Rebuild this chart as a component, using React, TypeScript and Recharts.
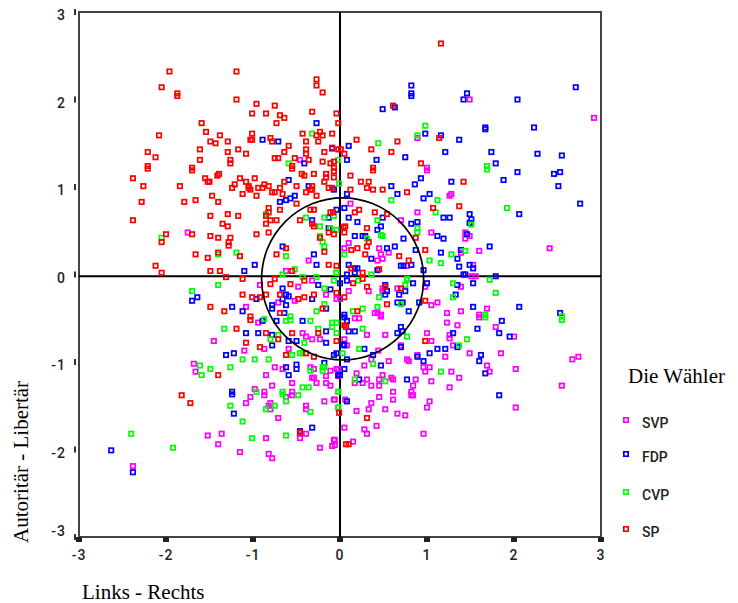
import React from "react";
import { ScatterChart, Scatter, XAxis, YAxis, ReferenceLine, ReferenceDot, ReferenceArea, Legend } from "recharts";

type P = [number, number];

const axisTicks = [-3, -2, -1, 0, 1, 2, 3];
const axisDomain: [number, number] = [-3, 3];
const xTitle = "Links - Rechts";
const yTitle = "Autoritär - Libertär";
const legendTitle = "Die Wähler";
const circleCenter = { x: 0.03, y: -0.05 };

const svpPoints: P[] = [
[-0.46,1.31],[-1.75,0.48],[-0.36,0.16],[-0.62,0.04],
[1.49,2.00],[2.92,1.79],[0.89,1.56],[1.00,1.22],[1.00,1.19],[1.28,0.92],[1.26,0.90],[0.12,0.81],[0.89,0.71],[0.70,0.62],[1.05,0.48],[1.44,0.48],[1.49,0.44],[1.44,0.41],[0.10,0.36],[0.45,0.30],[0.05,0.30],[1.60,0.27],[2.41,0.30],[0.47,0.23],[0.56,0.25],[0.49,0.18],[0.43,0.16],[1.39,0.25],[1.53,0.11],[0.77,0.10],[1.51,-0.02],[1.56,-0.02],
[-0.92,-0.12],[-0.48,-0.14],[-0.32,-0.07],[-0.16,-0.23],[-0.04,-0.28],[-0.52,-0.30],[-0.71,-0.32],[-1.08,-0.37],[-0.94,-0.55],[-1.45,-0.76],[-0.43,-0.67],[-0.39,-0.71],[-0.32,-0.74],[-0.23,-0.74],[-0.87,-0.85],[-0.59,-0.85],[-1.10,-0.87],[-1.68,-1.02],[-1.66,-1.11],[-0.75,-1.06],[-0.66,-1.08],[-0.34,-1.06],[-0.30,-1.08],[-0.11,-1.10],[-0.04,-1.08],[-0.02,-1.16],[-0.16,-1.16],[-0.85,-1.15],[-0.32,-1.18],[-0.30,-1.18],[-0.27,-1.24],[-0.16,-1.24],[-0.11,-1.27],[-0.78,-1.27],[-0.55,-1.24],[-0.98,-1.31],[-0.87,-1.34],[-0.87,-1.38],[-0.55,-1.34],[-0.55,-1.38],[-0.62,-1.40],[-1.03,-1.40],[-1.08,-1.47],[-0.80,-1.47],[-0.82,-1.50],[-0.80,-1.54],[-0.39,-1.50],[-0.39,-1.54],[-0.18,-1.45],[-0.07,-1.43],[-0.71,-1.64],[-1.52,-1.84],[-1.36,-1.82],[-1.40,-1.94],[-0.85,-1.87],[-0.46,-1.87],[-0.39,-1.82],[-1.15,-2.03],[-0.82,-2.05],[-0.78,-2.10],[-0.23,-1.98],[-0.09,-1.96],[-0.07,-1.89],[-2.38,-2.19],
[0.10,-0.19],[0.33,-0.19],[0.49,-0.16],[0.49,-0.19],[0.66,-0.16],[0.98,-0.14],[1.39,-0.14],[0,-0.28],[1.05,-0.35],[1.12,-0.32],[0.40,-0.44],[0.43,-0.44],[0.47,-0.46],[0.47,-0.48],[1.23,-0.44],[1.39,-0.42],[1.69,-0.39],[1.60,-0.46],[1.60,-0.49],[0.17,-0.50],[0.22,-0.50],[1.23,-0.55],[1.35,-0.58],[1.79,-0.60],[1.00,-0.67],[0.31,-0.69],[0.52,-0.69],[1.26,-0.69],[1.26,-0.73],[1.05,-0.76],[0.05,-0.74],[2.00,-0.71],[0.08,-0.81],[0.70,-0.81],[1.30,-0.81],[1.49,-0.90],[1.85,-0.90],[0.44,-0.87],[0.89,-0.92],[1.21,-0.94],[2.67,-0.97],[2.74,-0.94],[0.56,-0.99],[0.36,-0.97],[0.77,-0.97],[0.79,-0.99],[0.28,-1.04],[0.96,-1.06],[1.03,-1.06],[1.69,-1.04],[0.98,-1.11],[1.72,-1.11],[2.02,-1.08],[-0.02,-1.08],[0.19,-1.13],[0.49,-1.15],[0.59,-1.18],[0.61,-1.20],[0.87,-1.20],[1.28,-1.11],[1.37,-1.18],[0.31,-1.20],[0.45,-1.20],[0.26,-1.24],[0.17,-1.24],[0.36,-1.27],[0.45,-1.27],[1.05,-1.22],[0.84,-1.27],[2.55,-1.27],[1.26,-1.29],[0.61,-1.34],[0.61,-1.43],[0.82,-1.34],[0.82,-1.38],[0.84,-1.38],[0.45,-1.40],[0.36,-1.47],[1.03,-1.45],[0.33,-1.54],[0.52,-1.54],[1.00,-1.52],[2.02,-1.52],[0.19,-1.56],[0.66,-1.59],[0.75,-1.61],[0.42,-1.73],[0.05,-1.75],[0.28,-1.77],[0.31,-1.82],[0.96,-1.82],[0.15,-1.91],[-0.06,-1.89],[-0.06,-1.95],[-0.06,-1.43],[0.06,-1.43],
];

const fdpPoints: P[] = [
[-0.27,1.73],[-0.89,1.54],[-0.71,1.52],[-0.09,1.44],[-0.41,1.27],[-0.59,1.08],[-0.36,1.01],[-0.07,0.97],[-0.69,0.83],[-0.62,0.85],[-0.57,0.87],[-0.52,0.90],[-0.04,0.74],[-0.13,0.65],[-0.32,0.62],[-0.13,0.53],[-0.66,0.32],[-0.30,0.23],[-0.27,0.11],[-0.98,0.11],[-1.10,0.04],
[0.82,2.16],[0.82,2.07],[0.82,2.04],[1.46,2.07],[1.42,2.00],[2.71,2.14],[2.04,2.00],[0.49,1.89],[0.63,1.91],[1.67,1.68],[1.67,1.66],[2.23,1.68],[0.98,1.61],[1.16,1.59],[1.37,1.54],[0.10,1.47],[1.21,1.40],[1.74,1.40],[0.08,1.31],[0.42,1.31],[0.75,1.34],[2.27,1.38],[2.55,1.36],[1.79,1.27],[2.04,1.17],[2.46,1.15],[2.53,1.17],[1.88,1.08],[0.93,1.10],[0.86,1.03],[1.28,1.06],[2.51,1.01],[0.59,1.01],[0.08,0.92],[0.66,0.92],[1.03,0.92],[0.96,0.87],[2.76,0.81],[0.05,0.76],[1.49,0.69],[2.06,0.69],[0.10,0.65],[0.49,0.65],[1.51,0.63],[1.49,0.59],[1.19,0.65],[1.26,0.65],[0.20,0.60],[0.82,0.58],[0.89,0.60],[0.47,0.55],[0.43,0.51],[1.46,0.46],[0.17,0.44],[0.29,0.44],[0.26,0.44],[0.73,0.41],[1.12,0.44],[1.19,0.41],[0.54,0.30],[0.63,0.32],[0.87,0.28],[1.72,0.32],[1.39,0.28],[1.16,0.25],[0.36,0.18],[1.35,0.18],[0.70,0.10],[0.73,0.10],[0.82,0.11],[1.37,0.09],[1.49,0.11],[1.53,0.07],[0.10,0.11],[0.17,0.07],[0.20,0.07],[0.43,0.05],[0.08,0],[0.96,0.05],[1.42,0],[1.44,0],[1.79,-0.02],
[-0.25,-0.12],[-0.11,-0.17],[-0.66,-0.16],[-0.96,-0.28],[-0.66,-0.28],[-0.62,-0.23],[-0.59,-0.25],[-0.78,-0.35],[-0.78,-0.39],[-0.62,-0.35],[-0.32,-0.28],[-0.16,-0.39],[-1.64,-0.26],[-1.70,-0.30],[-1.24,-0.37],[-1.12,-0.42],[-0.64,-0.44],[-0.89,-0.53],[-0.73,-0.53],[-0.43,-0.53],[-1.08,-0.67],[-0.94,-0.67],[-0.16,-0.65],[-0.78,-0.69],[-0.59,-0.76],[-0.50,-0.76],[-0.16,-0.78],[-0.78,-0.81],[-0.07,-0.92],[-0.04,-0.90],[-1.31,-0.92],[-1.22,-0.90],[-0.18,-1.01],[-0.62,-1.06],[-0.50,-1.03],[-0.50,-1.08],[-0.59,-1.15],[-1.24,-1.34],[-1.24,-1.37],[-1.22,-1.59],[-0.46,-1.79],[-0.32,-1.75],[-2.63,-2.01],[-2.38,-2.26],
[0.17,0.02],[0,-0.10],[0.08,-0.07],[0.84,-0.10],[1.00,-0.10],[1.35,-0.12],[1.33,-0.23],[1.53,-0.10],[0.52,-0.12],[0.54,-0.19],[0.52,-0.23],[0.68,-0.23],[0.75,-0.19],[0.66,-0.32],[0.72,-0.32],[0.91,-0.32],[0.79,-0.42],[1.53,-0.37],[2.06,-0.37],[2.53,-0.44],[0.05,-0.46],[0.05,-0.49],[0.08,-0.53],[0.70,-0.60],[0.66,-0.67],[0.72,-0.65],[0.10,-0.65],[0.17,-0.65],[1.30,-0.67],[1.58,-0.62],[1.83,-0.67],[1.86,-0.53],[1.95,-0.71],[0.70,-0.83],[1.35,-0.83],[0.28,-0.85],[0.04,-0.80],[0.05,-0.81],[1.03,-0.90],[1.12,-0.85],[1.21,-0.85],[1.62,-0.92],[1.60,-0.99],[0.89,-0.94],[0.96,-0.99],[0.38,-0.92],[0.08,-0.97],[0.47,-1.04],[0.05,-1.08],[0.00,-1.15],[1.67,-1.13],[0.77,-1.20],[0.22,-1.20],[0.08,-1.45],[1.83,-1.38],[-0.02,-1.15],
];

const cvpPoints: P[] = [
[-0.32,1.61],[-0.59,1.27],[-0.02,1.31],[-0.01,1.04],[-0.85,0.69],[-0.39,0.65],[-0.18,0.65],[-0.07,0.67],[-0.23,0.55],[-0.11,0.53],[-0.04,0.51],[-0.23,0.44],[-0.20,0.37],[-0.18,0.32],[-2.05,0.42],[-1.40,0.23],[-1.19,0.25],[-0.62,0.21],[-0.52,0.06],
[0.98,1.70],[0.89,1.59],[0.44,1.50],[1.69,1.24],[1.69,1.20],[0.59,0.85],[1.12,0.85],[1.10,0.71],[1.92,0.76],[0.43,0.62],[1.51,0.57],[0.89,0.53],[0.89,0.48],[0.31,0.41],[0.47,0.45],[0.49,0.44],[1.44,0.27],[1.28,0.23],[1.03,0.16],[1.16,0.13],[0.05,0.23],[0.36,0],[0.77,-0.06],[1.72,-0.06],[-0.04,0.02],
[-0.66,0],[-0.43,-0.03],[-0.27,-0.03],[-0.07,-0.07],[-0.04,0.02],[-1.40,-0.12],[-1.70,-0.19],[-0.18,-0.16],[-0.18,-0.34],[-0.27,-0.42],[-0.87,-0.51],[-0.57,-0.48],[-0.57,-0.52],[-0.62,-0.53],[-0.34,-0.53],[-0.09,-0.55],[-0.09,-0.60],[-0.04,-0.67],[-0.25,-0.62],[-1.33,-0.62],[-0.80,-0.74],[-0.71,-0.69],[-0.41,-0.78],[-1.12,-0.97],[-0.98,-0.97],[-0.82,-0.97],[-0.55,-0.92],[-0.46,-0.90],[-0.43,-0.90],[-1.61,-1.04],[-1.49,-1.08],[-1.26,-1.06],[-1.59,-1.15],[-0.20,-1.06],[-0.18,-1.06],[-0.20,-1.10],[-0.34,-1.10],[-0.43,-1.29],[-0.36,-1.29],[-0.96,-1.34],[-0.66,-1.34],[-0.66,-1.37],[-0.48,-1.38],[-0.62,-1.45],[-1.26,-1.50],[-0.75,-1.50],[-0.85,-1.54],[-0.34,-1.57],[-0.02,-1.34],[-0.02,-1.52],[-1.12,-1.68],[-2.40,-1.82],[-1.01,-1.87],[-0.62,-1.84],[-1.92,-1.98],
[0.21,-0.07],[0.77,-0.05],[0.75,-0.12],[1.30,-0.10],[1.30,-0.26],[1.79,-0.21],[0.45,-0.26],[0.70,-0.34],[0.43,-0.37],[0.26,-0.39],[0.15,-0.42],[1.67,-0.46],[1.67,-0.49],[2.55,-0.48],[2.55,-0.52],[0.26,-0.62],[0.77,-0.71],[1.46,-0.74],[1.37,-0.81],[0.22,-0.85],[0.03,-0.90],[0.38,-1.02],[1.16,-1.11],[0.17,-1.20],[0.52,-1.22],[-0.02,-1.34],[-0.02,-1.52],[-0.04,-0.55],
];

const spPoints: P[] = [
[-1.96,2.32],[-1.19,2.32],[-2.05,2.14],[-1.87,2.07],[-1.87,2.04],[-1.19,2.00],[-0.96,1.95],[-0.75,1.93],[-1.01,1.84],[-0.85,1.84],[-0.69,1.82],[-0.64,1.79],[-0.32,1.86],[-0.04,1.84],[-1.59,1.73],[-0.73,1.73],[-0.27,2.23],[-0.27,2.16],[-0.20,2.08],[-0.02,1.73],[-1.54,1.63],[-2.08,1.59],[-1.38,1.59],[-1.01,1.61],[-1.03,1.54],[-1.01,1.54],[-0.80,1.56],[-0.43,1.61],[-0.23,1.63],[-0.27,1.59],[-0.20,1.59],[-0.09,1.61],[-1.49,1.52],[-1.43,1.50],[-1.29,1.52],[-0.78,1.52],[-0.39,1.52],[-0.25,1.52],[-0.59,1.47],[-0.09,1.45],[-1.61,1.43],[-2.21,1.40],[-1.29,1.40],[-1.17,1.43],[-1.08,1.38],[-0.64,1.40],[-0.39,1.43],[-0.39,1.38],[-0.18,1.40],[-0.02,1.43],[-2.12,1.34],[-1.61,1.31],[-1.26,1.31],[-1.26,1.27],[-0.75,1.33],[-0.71,1.33],[-0.52,1.33],[-0.36,1.31],[-0.20,1.29],[-0.07,1.29],[-0.55,1.24],[-0.55,1.21],[-0.11,1.27],[-2.21,1.24],[-2.21,1.21],[-1.70,1.22],[-1.70,1.19],[-0.07,1.22],[-0.07,1.18],[-2.38,1.10],[-1.55,1.10],[-1.39,1.15],[-1.41,1.13],[-1.15,1.10],[-0.98,1.10],[-0.44,1.15],[-0.41,1.13],[-0.30,1.15],[-0.16,1.15],[-0.16,1.11],[-0.07,1.11],[-1.52,1.06],[-1.50,1.06],[-1.08,1.06],[-0.64,1.06],[-1.21,1.03],[-0.87,1.03],[-0.18,1.06],[-2.26,1.01],[-1.84,1.01],[-1.24,0.99],[-1.05,1.01],[-1.05,0.99],[-0.94,0.99],[-0.89,0.99],[-0.82,1.01],[-0.69,0.99],[-0.50,1.01],[-0.32,1.01],[-0.34,0.97],[-0.13,0.99],[-0.09,0.99],[-1.03,0.97],[-0.78,0.94],[-0.75,0.94],[-0.66,0.92],[-0.39,0.94],[-0.32,0.97],[-1.47,0.90],[-1.12,0.92],[-0.96,0.90],[-0.27,0.90],[-2.28,0.83],[-1.79,0.83],[-1.66,0.85],[-1.40,0.83],[-0.50,0.81],[-0.82,0.76],[-0.34,0.74],[-0.30,0.74],[-0.69,0.74],[-0.82,0.71],[-0.85,0.67],[-1.29,0.69],[-1.17,0.67],[-1.49,0.67],[-0.11,0.71],[-0.08,0.71],[-0.80,0.62],[-0.73,0.62],[-0.46,0.62],[-2.38,0.62],[-1.35,0.58],[-1.29,0.55],[-0.85,0.58],[-0.32,0.58],[-0.30,0.55],[-0.13,0.48],[-0.07,0.46],[-0.82,0.48],[-0.96,0.46],[-2.00,0.46],[-1.70,0.46],[-1.49,0.44],[-1.40,0.42],[-1.26,0.42],[-1.28,0.37],[-1.28,0.33],[-2.05,0.37],[-0.62,0.30],[-0.23,0.42],[-0.18,0.26],[-1.66,0.23],[-0.73,0.23],[-1.15,0.21],[-1.52,0.19],[-1.40,0.25],[-2.12,0.10],[-0.13,0.11],[-0.04,0.10],[-2.05,0.02],[-1.49,0.04],[-1.38,0.04],
[1.16,2.64],[0.61,1.93],[0.19,1.54],[0.36,1.43],[0.66,1.52],[0.59,1.40],[0.05,1.38],[0.01,1.43],[1.14,1.56],[0.93,1.27],[0.38,1.22],[0.38,1.19],[0.12,1.13],[0.24,1.06],[0.33,1.06],[1.42,1.06],[0.31,0.99],[0.38,0.97],[0.49,0.97],[0.12,0.97],[0.77,0.94],[1.37,0.78],[1.07,0.76],[0.22,0.74],[0.17,0.71],[0.40,0.71],[0.54,0.69],[0.31,0.53],[0.06,0.55],[0.04,0.54],[0.05,0.48],[0.87,0.42],[0.33,0.37],[0.31,0.32],[0.20,0.30],[0.13,0.28],[0.29,0.23],[0.68,0.21],[0.79,0.16],[0.98,0.28],[0.45,0.06],[0.13,0.07],[0.26,0.02],
[-1.31,-0.03],[-1.12,-0.05],[-0.55,0.04],[-0.57,-0.11],[-0.41,-0.07],[-0.80,-0.11],[-0.75,-0.05],[-1.12,-0.23],[-1.01,-0.26],[-0.92,-0.26],[-0.85,-0.23],[-0.69,-0.23],[-0.48,-0.28],[-0.41,-0.26],[-0.30,-0.23],[-0.04,-0.21],[-1.49,-0.37],[-1.33,-0.42],[-1.03,-0.48],[-1.03,-0.52],[-0.69,-0.44],[-0.20,-0.39],[-1.19,-0.62],[-0.85,-0.67],[-0.55,-0.67],[-0.25,-0.67],[-0.71,-0.74],[-0.04,-0.76],[-1.08,-0.78],[-0.92,-0.83],[-0.62,-0.92],[-0.39,-0.90],[-0.30,-0.94],[-0.46,-1.81],[-1.40,-1.15],[-1.82,-1.38],[-1.72,-1.47],[-0.01,-1.58],
[0.15,-0.10],[0.26,-0.05],[0.31,-0.14],[0.52,-0.14],[0.70,-0.16],[0.05,-0.26],[0.54,-0.34],[0.98,-0.30],[0.20,-0.42],[0.05,-0.58],[0.07,-0.60],[0.98,-0.76],[0.31,-1.64],[0.07,-1.94],[0.10,-1.94],
];

const parties = [
  { name: "SVP", color: "#ff00ff", points: svpPoints },
  { name: "FDP", color: "#0000ff", points: fdpPoints },
  { name: "CVP", color: "#00ff00", points: cvpPoints },
  { name: "SP", color: "#ff0000", points: spPoints },
];
const legendRows = [420, 454, 492, 529];

const toRows = (pts: P[]) => pts.map(([x, y]) => ({ x, y }));

const Marker = (color: string) => (props: any) => (
  <rect x={props.cx - 2.2} y={props.cy - 2.2} width={4.4} height={4.4} fill="none" stroke={color} strokeWidth={1.7} />
);

const tickFont = { fontFamily: "Roboto, sans-serif", fontSize: 14, fontWeight: 500, fill: "#222", letterSpacing: 1 };

const XTick = (props: any) => (
  <g>
    <rect x={props.x - 3} y={props.y - 8} width={6} height={5} fill="#222" />
    <text x={props.x} y={props.y + 15} textAnchor="middle" {...tickFont}>{props.payload.value}</text>
  </g>
);
const YTick = (props: any) => (
  <g>
    <rect x={74} y={props.y - 3} width={2} height={6} fill="#333" />
    <text x={66} y={props.y + (props.payload.value === -3 ? -1 : 8)} textAnchor="end" {...tickFont}>{props.payload.value}</text>
  </g>
);

const titleFont = { fontFamily: "'Liberation Serif', serif", fontSize: 21, fill: "#000" };

const LegendBox = (props: any) => (
  <svg width={738} height={603} style={{ position: "absolute", left: 0, top: 0 }}>
    {(props.payload || []).map((item: any, i: number) => (
      <g key={item.value}>
        <rect x={623.8} y={legendRows[i] - 2.2} width={4.4} height={4.4} fill="none" stroke={item.color} strokeWidth={1.7} />
        <text x={642} y={legendRows[i] + 8} {...tickFont} letterSpacing={0}>{item.value}</text>
      </g>
    ))}
    <text x={628} y={383} {...titleFont}>{legendTitle}</text>
    <text x={82} y={599} {...titleFont}>{xTitle}</text>
    <text x={28} y={543} transform="rotate(-90 28 543)" {...titleFont}>{yTitle}</text>
  </svg>
);

export default function App() {
  return (
    <div style={{ position: "absolute", left: 0, top: 0, width: 738, height: 603, background: "#fff" }}>
      <ScatterChart width={738} height={603} margin={{ top: 12, right: 137, bottom: 36, left: 4 }}>
        <XAxis type="number" dataKey="x" domain={axisDomain} ticks={axisTicks} axisLine={false} tickLine={false} height={30} tick={<XTick />} interval={0} />
        <YAxis type="number" dataKey="y" domain={axisDomain} ticks={axisTicks} axisLine={false} tickLine={false} width={75} tick={<YTick />} interval={0} />
        <ReferenceArea x1={-3} x2={3} y1={-3} y2={3} fill="none" stroke="#444" strokeWidth={2} />
        {parties.map((p) => (
          <Scatter key={p.name} name={p.name} data={toRows(p.points)} fill={p.color} stroke={p.color} shape={Marker(p.color)} isAnimationActive={false} />
        ))}
        <ReferenceLine x={0} stroke="#000" strokeWidth={2} />
        <ReferenceLine y={-0.02} stroke="#000" strokeWidth={2} />
        <ReferenceDot x={circleCenter.x} y={circleCenter.y} r={81} fill="none" stroke="#000" strokeWidth={1.7} />
        <Legend layout="horizontal" verticalAlign="middle" align="center" itemSorter={null} content={<LegendBox />} wrapperStyle={{ left: 0, top: 0, width: 738, height: 603 }} />
      </ScatterChart>
    </div>
  );
}
